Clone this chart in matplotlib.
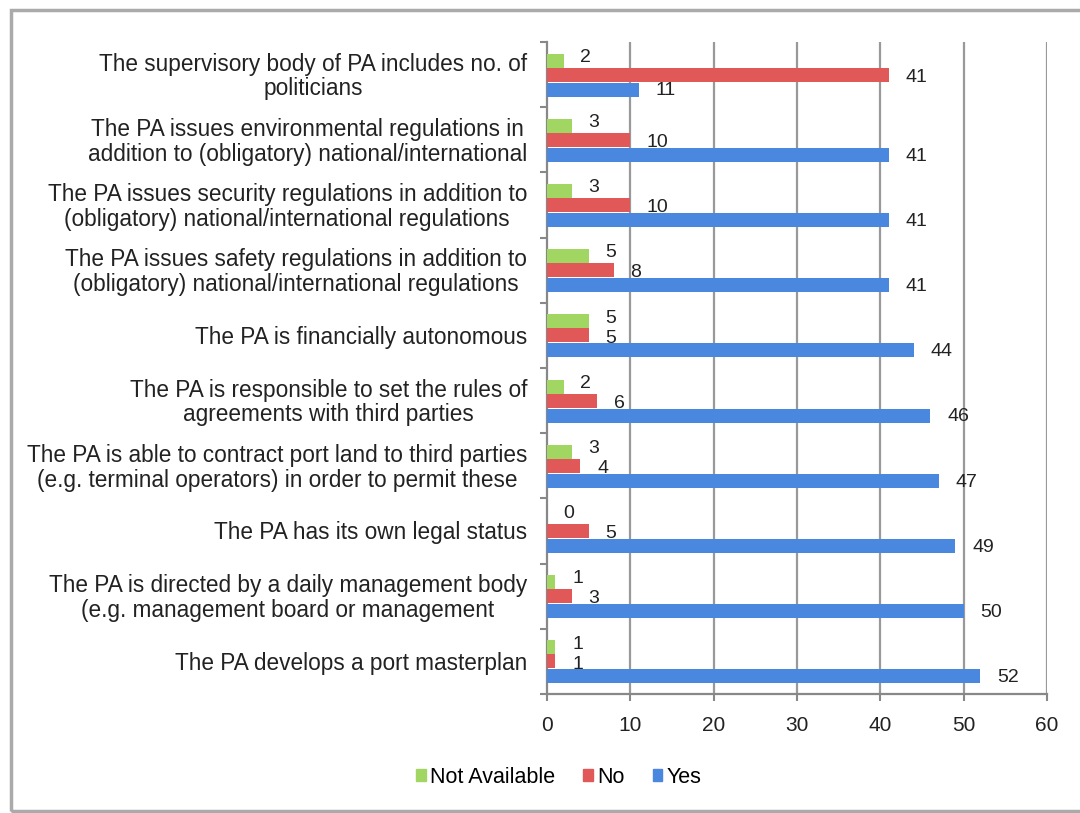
import matplotlib
matplotlib.use("Agg")
import matplotlib.pyplot as plt
from matplotlib.patches import Rectangle, Patch
import numpy as np

plt.rcParams['font.family'] = ['Liberation Sans', 'DejaVu Sans']

categories = [
    "The supervisory body of PA includes no. of\npoliticians",
    "The PA issues environmental regulations in\naddition to (obligatory) national/international",
    "The PA issues security regulations in addition to\n(obligatory) national/international regulations",
    "The PA issues safety regulations in addition to\n(obligatory) national/international regulations",
    "The PA is financially autonomous",
    "The PA is responsible to set the rules of\nagreements with third parties",
    "The PA is able to contract port land to third parties\n(e.g. terminal operators) in order to permit these",
    "The PA has its own legal status",
    "The PA is directed by a daily management body\n(e.g. management board or management",
    "The PA develops a port masterplan",
]
not_available = [2, 3, 3, 5, 5, 2, 3, 0, 1, 1]
no_vals = [41, 10, 10, 8, 5, 6, 4, 5, 3, 1]
yes_vals = [11, 41, 41, 41, 44, 46, 47, 49, 50, 52]
series_names = ["Not Available", "No", "Yes"]
colors = ["#a2d663", "#e05858", "#4a87de"]
x_ticks = [0, 10, 20, 30, 40, 50, 60]

fig = plt.figure(figsize=(10.8, 8.13), dpi=100)
ax = fig.add_axes([547/1080, 1-694/813, 500/1080, 652/813])

n = len(categories)
y = np.arange(n)
h = 0.215
offs = [-0.215, 0.0, 0.23]
label_shift = [-0.05, 0.04, 0.02]
series = [not_available, no_vals, yes_vals]
for vals, off, sh, col, name in zip(series, offs, label_shift, colors, series_names):
    ax.barh(y + off, vals, height=h, color=col, label=name, zorder=3)
    for yi, v in zip(y, vals):
        ax.text(v + 2, yi + off + sh, str(v), ha='left', va='center', fontsize=14,
                color='#222222', zorder=4)

ax.set_ylim(n - 0.5, -0.5)
ax.set_xlim(0, 60)
ax.set_xticks(x_ticks)
ax.set_xticklabels([str(t) for t in x_ticks], fontsize=15, color='#222222')
ax.set_yticks(np.arange(n + 1) - 0.5, minor=False)
ax.set_yticklabels([])
ax.tick_params(axis='y', length=5, width=1.5, color='#888888', direction='out')
ax.tick_params(axis='x', length=5, width=1.5, color='#888888', direction='out', pad=11)
for xt in x_ticks[1:]:
    ax.axvline(xt, color='#999999', lw=1.6, zorder=1)
for s in ['top', 'right']:
    ax.spines[s].set_visible(False)
for s in ['left', 'bottom']:
    ax.spines[s].set_color('#888888')
    ax.spines[s].set_linewidth(1.6)

for yi, cat in zip(y, categories):
    ax.text(-2.4, yi + 0.03, cat, ha='right', va='center', multialignment='center',
            fontsize=16.3, color='#222222', linespacing=1.1)

handles = [Patch(color=c) for c in colors]
fig.legend(handles, series_names, loc='center', bbox_to_anchor=(559/1080, 1-777/813),
           ncol=3, frameon=False, fontsize=15.5, handlelength=0.45, handleheight=0.45,
           handletextpad=0.2, columnspacing=1.3)

border = Rectangle((11/1080, 2/813), 1.2, 801/813, transform=fig.transFigure,
                   fill=False, edgecolor='#aaaaaa', lw=2.5, clip_on=False)
fig.patches.append(border)

fig.savefig("out.png", dpi=100)
